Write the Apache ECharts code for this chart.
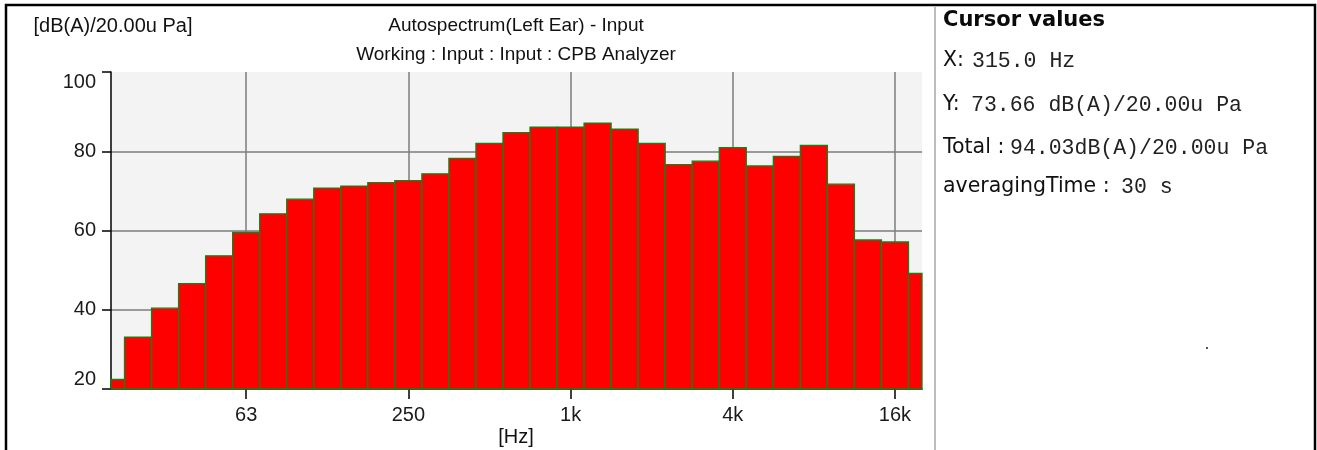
<!DOCTYPE html>
<html>
<head>
<meta charset="utf-8">
<script src="https://cdn.jsdelivr.net/npm/echarts@6/dist/echarts.min.js"></script>
<style>
html,body{margin:0;padding:0;background:#fff;}
#chart{width:1317px;height:450px;}
</style>
</head>
<body>
<div id="chart"></div>
<script>
// 1/3-octave band centre labels (Hz)
const bands = ['20','25','31.5','40','50','63','80','100','125','160','200','250','315','400','500','630','800','1k','1.25k','1.6k','2k','2.5k','3.15k','4k','5k','6.3k','8k','10k','12.5k','16k','20k'];
// band levels, dB(A)/20.00u Pa
const levels = [22.4,33.1,40.4,46.6,53.6,59.5,64.2,67.9,70.7,71.2,72.1,72.6,74.3,78.2,82.0,84.7,86.1,86.1,87.1,85.6,82.0,76.6,77.5,80.9,76.3,78.7,81.5,71.7,57.6,57.1,49.2];
// labelled frequency ticks
const tickLabels = ['63','250','1k','4k','16k'];
const yTicks = [20,40,60,80,100];

const titleText = 'Autospectrum(Left Ear) - Input';
const subTitleText = 'Working : Input : Input : CPB Analyzer';
const yUnit = '[dB(A)/20.00u Pa]';
const xUnit = '[Hz]';
const cursorRows = [
  ['X:', '315.0 Hz'],
  ['Y:', '73.66 dB(A)/20.00u Pa'],
  ['Total :', '94.03dB(A)/20.00u Pa'],
  ['averagingTime :', '30 s']
];

const tickIdx = tickLabels.map(l => bands.indexOf(l));
const chart = echarts.init(document.getElementById('chart'), null, {renderer:'canvas'});

const sans = 'Liberation Sans';
const panelFont = 'DejaVu Sans';
const monoFont = 'Liberation Mono';

const rowY = [61, 105, 148, 187];
const valueX = [972, 971, 1010, 1121];

const graphics = [
  {type:'text', x:516, y:26, style:{text:titleText, fontFamily:sans, fontSize:19, fill:'#111', align:'center', verticalAlign:'middle'}},
  {type:'text', x:516, y:55, style:{text:subTitleText, fontFamily:sans, fontSize:19, fill:'#111', align:'center', verticalAlign:'middle'}},
  {type:'text', x:113, y:26, style:{text:yUnit, fontFamily:sans, fontSize:20, fill:'#111', align:'center', verticalAlign:'middle'}},
  {type:'text', x:516, y:437, style:{text:xUnit, fontFamily:sans, fontSize:20, fill:'#111', align:'center', verticalAlign:'middle'}},
  {type:'text', x:943, y:21, style:{text:'Cursor values', fontFamily:panelFont, fontWeight:'bold', fontSize:21, fill:'#0a0a0a', align:'left', verticalAlign:'middle'}},
  {type:'line', shape:{x1:935, y1:7, x2:935, y2:450}, style:{stroke:'#bdbdbd', lineWidth:2}},
  {type:'rect', shape:{x:1206, y:347, width:2, height:2}, style:{fill:'#555'}},
  {type:'rect', z:100, shape:{x:6, y:5, width:1309, height:500}, style:{fill:null, stroke:'#000', lineWidth:2.5}}
];
cursorRows.forEach((r, k) => {
  graphics.push({type:'text', x:943, y:rowY[k], style:{text:r[0], fontFamily:panelFont, fontSize:20.5, fill:'#111', align:'left', verticalAlign:'middle'}});
  graphics.push({type:'text', x:valueX[k], y:rowY[k], style:{text:r[1], fontFamily:monoFont, fontSize:21.5, fill:'#222', align:'left', verticalAlign:'middle'}});
});

chart.setOption({
  animation:false,
  backgroundColor:'#fff',
  grid:{left:111, right:395, top:72, bottom:61, show:true, backgroundColor:'#f3f3f3', borderWidth:0},
  xAxis:{
    type:'value', min:0, max:bands.length-1,
    axisLine:{show:true, lineStyle:{color:'#000', width:1.5}},
    axisTick:{show:true, inside:false, length:10, customValues:tickIdx, lineStyle:{color:'#000', width:1.5}},
    axisLabel:{show:true, customValues:tickIdx, margin:16, fontFamily:sans, fontSize:20, color:'#1a1a1a',
      formatter:v => bands[Math.round(v)]},
    splitLine:{show:true, lineStyle:{color:'#7d7d7d', width:1.5}}
  },
  yAxis:{
    type:'value', min:yTicks[0], max:yTicks[yTicks.length-1], interval:20,
    axisLine:{show:true, lineStyle:{color:'#000', width:1.5}},
    axisTick:{show:true, inside:false, length:9, lineStyle:{color:'#000', width:1.5}},
    axisLabel:{show:true, margin:15, fontFamily:sans, fontSize:20, color:'#1a1a1a',
      verticalAlignMinLabel:'bottom', verticalAlignMaxLabel:'top'},
    splitLine:{show:true, showMinLine:false, showMaxLine:false, lineStyle:{color:'#7d7d7d', width:1.5}}
  },
  graphic:graphics,
  series:[{
    type:'custom',
    data:levels.map((v,i)=>[i,v]),
    encode:{x:0, y:1},
    renderItem:function(params, api){
      const i = api.value(0), v = api.value(1);
      const p0 = api.coord([i-0.5, v]);
      const p1 = api.coord([i+0.5, yTicks[0]]);
      const cs = params.coordSys;
      const x0 = Math.max(p0[0], cs.x);
      const x1 = Math.min(p1[0], cs.x + cs.width);
      return {type:'rect', shape:{x:x0, y:p0[1], width:x1-x0, height:p1[1]-p0[1]},
        style:{fill:'#ff0000', stroke:'#16801a', lineWidth:1.3}};
    }
  }]
});
</script>
</body>
</html>
